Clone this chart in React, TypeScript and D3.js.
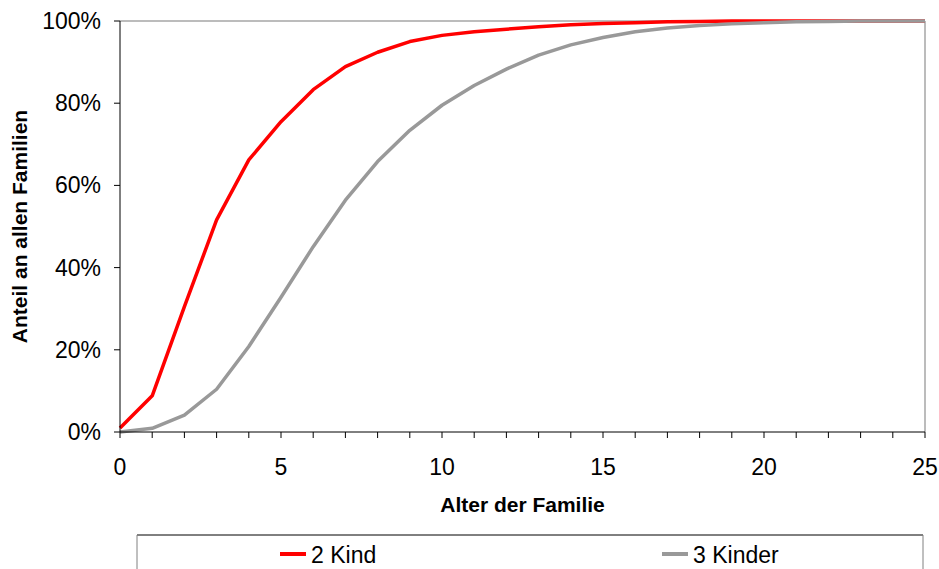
import React from "react";
import * as d3 from "d3";

// Age of the family in years
const ages: number[] = d3.range(0, 26);

// Cumulative share of families (percent) that have reached the next child
const zweiKind: number[] = [
  1, 8.8, 30.5, 51.6, 66.2, 75.5, 83.3, 88.9, 92.4, 95.0, 96.5, 97.4, 98.0,
  98.6, 99.1, 99.4, 99.6, 99.8, 99.9, 100, 100, 100, 100, 100, 100, 100,
];
const dreiKinder: number[] = [
  0, 0.9, 4.1, 10.4, 20.8, 32.8, 45.1, 56.4, 65.8, 73.4, 79.5, 84.3, 88.3,
  91.7, 94.2, 96.0, 97.4, 98.3, 98.9, 99.3, 99.6, 99.8, 99.9, 100, 100, 100,
];

const seriesNames: string[] = ["2 Kind", "3 Kinder"];
const seriesColors: string[] = ["#ff0000", "#999999"];
const xTicks: number[] = [0, 5, 10, 15, 20, 25];
const yTicks: number[] = [0, 20, 40, 60, 80, 100];

const W = 939;
const H = 569;
const left = 120;
const right = 925;
const top = 21;
const bottom = 432;
const font = "'Liberation Sans', Arial, Helvetica, sans-serif";

export default function App() {
  const x = d3.scaleLinear().domain([0, 25]).range([left, right]);
  const y = d3.scaleLinear().domain([0, 100]).range([bottom, top]);

  const line = d3
    .line<[number, number]>()
    .x((d) => x(d[0]))
    .y((d) => y(d[1]));

  const series = [zweiKind, dreiKinder].map((vals) =>
    ages.map((a, i) => [a, vals[i]] as [number, number])
  );

  return (
    <svg
      width={W}
      height={H}
      style={{ position: "absolute", left: 0, top: 0, background: "#fff" }}
      fontFamily={font}
    >
      <rect x={0} y={0} width={W} height={H} fill="#fff" />

      {/* plot frame: grey top/right, black axes */}
      <line x1={left} x2={right} y1={top} y2={top} stroke="#a6a6a6" strokeWidth={1.5} />
      <line x1={right} x2={right} y1={top} y2={bottom} stroke="#a6a6a6" strokeWidth={1.5} />

      {/* series */}
      {series.map((pts, i) => (
        <path
          key={seriesNames[i]}
          d={line(pts) || ""}
          fill="none"
          stroke={seriesColors[i]}
          strokeWidth={3.5}
          strokeLinejoin="round"
        />
      ))}

      {/* y axis */}
      <line x1={left} x2={left} y1={top} y2={bottom} stroke="#000" strokeWidth={1} />
      {yTicks.map((t) => (
        <g key={"y" + t}>
          <line x1={left - 6} x2={left} y1={y(t)} y2={y(t)} stroke="#000" strokeWidth={1} />
          <text
            x={101}
            y={y(t) + 8}
            textAnchor="end"
            fontSize={23}
            fill="#000"
          >
            {t + "%"}
          </text>
        </g>
      ))}

      {/* x axis */}
      <line x1={left} x2={right} y1={bottom} y2={bottom} stroke="#000" strokeWidth={1} />
      {ages.map((a) => (
        <line
          key={"xt" + a}
          x1={x(a)}
          x2={x(a)}
          y1={bottom}
          y2={bottom + 6}
          stroke="#000"
          strokeWidth={1}
        />
      ))}
      {xTicks.map((t) => (
        <text
          key={"xl" + t}
          x={x(t)}
          y={475}
          textAnchor="middle"
          fontSize={23}
          fill="#000"
        >
          {t}
        </text>
      ))}

      {/* axis titles */}
      <text
        x={(left + right) / 2}
        y={512}
        textAnchor="middle"
        fontSize={21}
        fontWeight="bold"
        fill="#000"
      >
        Alter der Familie
      </text>
      <text
        transform={`translate(27, ${(top + bottom) / 2}) rotate(-90)`}
        textAnchor="middle"
        fontSize={21}
        fontWeight="bold"
        fill="#000"
      >
        Anteil an allen Familien
      </text>

      {/* legend */}
      <line x1={137} x2={923} y1={535} y2={535} stroke="#000" strokeWidth={1} />
      <line x1={137} x2={137} y1={535} y2={H + 5} stroke="#808080" strokeWidth={1} />
      <line x1={923} x2={923} y1={535} y2={H + 5} stroke="#808080" strokeWidth={1} />
      {[
        { lx: 280, tx: 311 },
        { lx: 662, tx: 693 },
      ].map((p, i) => (
        <g key={"lg" + i}>
          <line
            x1={p.lx}
            x2={p.lx + 26}
            y1={554}
            y2={554}
            stroke={seriesColors[i]}
            strokeWidth={4}
          />
          <text x={p.tx} y={563} fontSize={23} fill="#000">
            {seriesNames[i]}
          </text>
        </g>
      ))}
    </svg>
  );
}
